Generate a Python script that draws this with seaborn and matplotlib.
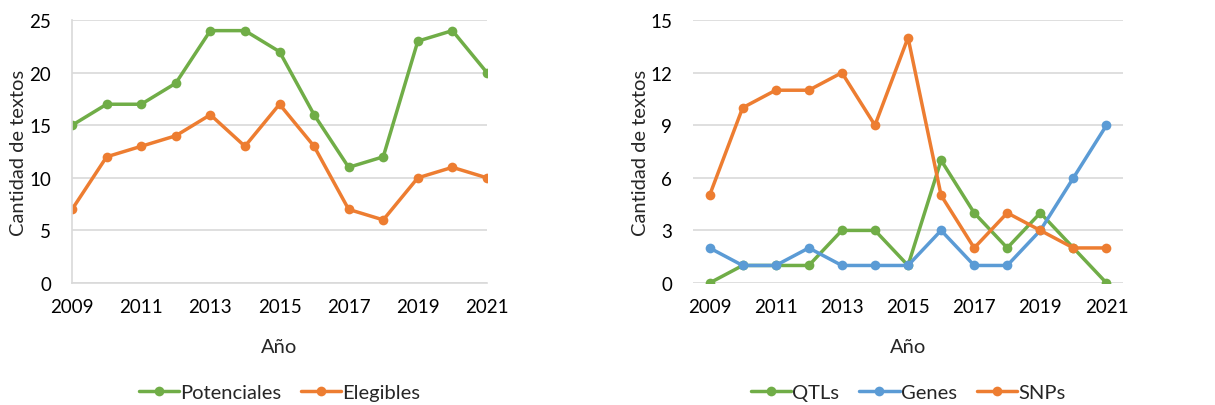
import matplotlib
matplotlib.use("Agg")
import matplotlib.pyplot as plt
import seaborn as sns
import pandas as pd

years = list(range(2009, 2022))

# Left panel series
potenciales = [15, 17, 17, 19, 24, 24, 22, 16, 11, 12, 23, 24, 20]
elegibles = [7, 12, 13, 14, 16, 13, 17, 13, 7, 6, 10, 11, 10]

# Right panel series
qtls = [0, 1, 1, 1, 3, 3, 1, 7, 4, 2, 4, 2, 0]
genes = [2, 1, 1, 2, 1, 1, 1, 3, 1, 1, 3, 6, 9]
snps = [5, 10, 11, 11, 12, 9, 14, 5, 2, 4, 3, 2, 2]

x_ticks = [2009, 2011, 2013, 2015, 2017, 2019, 2021]

GREEN = "#70AD47"
ORANGE = "#ED7D31"
BLUE = "#5B9BD5"
GRID = "#D9D9D9"

sns.set_theme(style="white")
plt.rcParams["font.family"] = ["Lato", "DejaVu Sans"]

left_df = pd.DataFrame({
    "Año": years * 2,
    "valor": potenciales + elegibles,
    "serie": ["Potenciales"] * 13 + ["Elegibles"] * 13,
})
right_df = pd.DataFrame({
    "Año": years * 3,
    "valor": qtls + genes + snps,
    "serie": ["QTLs"] * 13 + ["Genes"] * 13 + ["SNPs"] * 13,
})

fig = plt.figure(figsize=(12.15, 4.06), dpi=100)
ax1 = fig.add_axes([0.0593, 0.3005, 0.3415, 0.6475])
ax2 = fig.add_axes([0.5704, 0.3005, 0.3539, 0.6475])


def style(ax, df, palette, order, ymax, ystep, xlim, ylab_x):
    sns.lineplot(data=df, x="Año", y="valor", hue="serie", hue_order=order,
                 palette=palette, marker="o", markersize=7, markeredgewidth=0,
                 linewidth=2.5, ax=ax, legend=True)
    ax.set_xlim(*xlim)
    ax.set_ylim(0, ymax)
    ax.set_yticks(range(0, ymax + 1, ystep))
    ax.set_xticks(x_ticks)
    ax.grid(axis="y", color=GRID, linewidth=1.2)
    ax.set_axisbelow(True)
    ax.tick_params(axis="y", length=0, pad=15, labelsize=13.5, colors="#000000")
    ax.tick_params(axis="x", length=0, pad=11, labelsize=13.5, colors="#000000")
    ax.set_xlabel("Año", fontsize=14.5)
    ax.set_ylabel("Cantidad de textos", fontsize=14.5)
    ax.xaxis.label.set_va("center")
    ax.xaxis.set_label_coords(0.5, -0.24)
    ax.yaxis.label.set_va("center")
    ax.yaxis.set_label_coords(ylab_x, 0.5)
    for s in ["top", "right"]:
        ax.spines[s].set_visible(False)
    handles, labels = ax.get_legend_handles_labels()
    ax.legend(handles, labels, loc="center", bbox_to_anchor=(0.5, -0.415),
              ncol=len(labels), frameon=False, fontsize=14.5, handlelength=2.0,
              handletextpad=0.05, columnspacing=1.0)


style(ax1, left_df, [GREEN, ORANGE], ["Potenciales", "Elegibles"], 25, 5,
      (2009, 2021), -0.13)
ax1.spines["left"].set_color(GRID)
ax1.spines["bottom"].set_color(GRID)
ax1.spines["left"].set_linewidth(1.2)
ax1.spines["bottom"].set_linewidth(1.2)

style(ax2, right_df, [GREEN, BLUE, ORANGE], ["QTLs", "Genes", "SNPs"], 15, 3,
      (2008.5, 2021.5), -0.123)
ax2.spines["left"].set_visible(False)
ax2.spines["bottom"].set_visible(False)

fig.savefig("out.png", dpi=100, facecolor="white")
